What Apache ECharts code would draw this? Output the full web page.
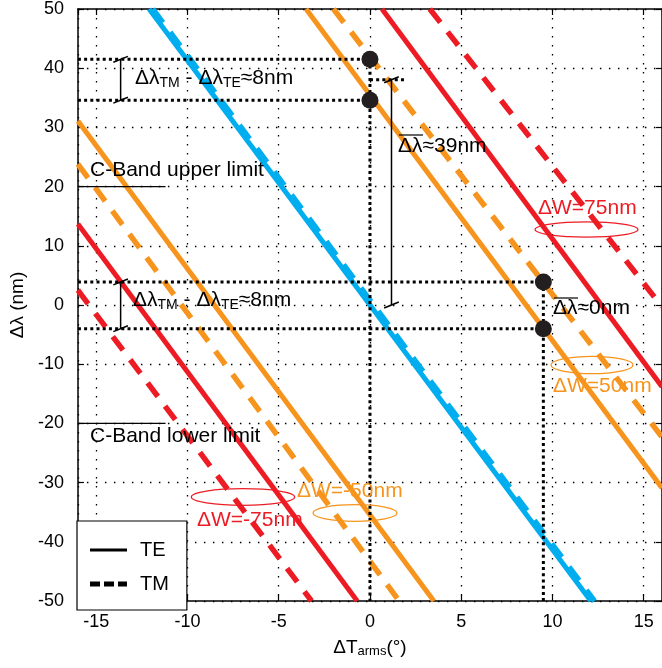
<!DOCTYPE html>
<html>
<head>
<meta charset="utf-8">
<script src="https://cdn.jsdelivr.net/npm/echarts@6/dist/echarts.min.js"></script>
<style>html,body{margin:0;padding:0;background:#fff}#chart{width:662px;height:668px}</style>
</head>
<body>
<div id="chart"></div>
<script>
// width offsets (nm) of the two arms, one TE / TM line pair each
let widths = [-75, -50, 0, 50, 75];
let lineColors = ['#ED1C24', '#F7941D', '#00AEEF', '#F7941D', '#ED1C24'];
// end points of each line [dT, dLambda]
let teLines = [
    [[-16, 13.7], [-0.7, -50]],
    [[-16, 31.1], [3.5, -50]],
    [[-12.1, 50], [12.1, -50]],
    [[-3.5, 50], [16, -30.9]],
    [[0.66, 50], [16, -13.8]]
];
let tmLines = [
    [[-16, 2.5], [-3.2, -50]],
    [[-16, 23.8], [1.6, -50]],
    [[-11.9, 50], [12.3, -50]],
    [[-2.0, 50], [16, -22.3]],
    [[3.28, 50], [16, -0.3]]
];
// C-band limits
let cBand = [20, -20];
let cBandEnd = -11.2;
// marked points
let markX = [0, 0, 9.5, 9.5];
let markY = [41.5, 34.6, 3.9, -4];
// I-bars (x, top, bottom)
let iBars = [[-13.66, 41.5, 34.6], [-13.66, 3.9, -4], [1.18, 38.05, 0]];

let FONT = 'Liberation Sans';
let chart = echarts.init(document.getElementById('chart'));

function seg(data, color, width, type, z) {
    return {
        type: 'line', data: data, symbol: 'none', silent: true, z: z || 3,
        animation: false,
        lineStyle: { color: color, width: width, type: type || 'solid', cap: 'butt' }
    };
}

let series = [];
widths.forEach(function (w, i) {
    series.push(seg(teLines[i], lineColors[i], 5, 'solid', 3));
    series.push(seg(tmLines[i], lineColors[i], 5.5, [17, 12], 3));
});

// legend dummies
series.push({ type: 'line', name: 'TE', data: [], symbol: 'none', color: '#000', lineStyle: { color: '#000', width: 3 } });
series.push({ type: 'line', name: 'TM', data: [], symbol: 'none', color: '#000', lineStyle: { color: '#000', width: 5, type: [9, 5] } });

// C-band lines
cBand.forEach(function (v) {
    series.push(seg([[-16, v], [cBandEnd, v]], '#000', 1.3, 'solid', 4));
});

// dotted guide lines
let dot = [3, 3.2];
series.push(seg([[-16, markY[0]], [markX[0], markY[0]]], '#000', 3, dot, 4));
series.push(seg([[-16, markY[1]], [markX[1], markY[1]]], '#000', 3, dot, 4));
series.push(seg([[markX[0], markY[0]], [markX[0], -50]], '#000', 3, dot, 4));
series.push(seg([[-16, markY[2]], [markX[2], markY[2]]], '#000', 3, dot, 4));
series.push(seg([[-16, markY[3]], [markX[3], markY[3]]], '#000', 3, dot, 4));
series.push(seg([[markX[2], markY[2]], [markX[2], -50]], '#000', 3, dot, 4));
series.push(seg([[markX[0], iBars[2][1]], [2, iBars[2][1]]], '#000', 3, dot, 4));

// I-bars with slanted caps
iBars.forEach(function (b) {
    series.push(seg([[b[0], b[1]], [b[0], b[2]]], '#000', 1.5, 'solid', 5));
    series.push(seg([[b[0] - 0.4, b[1] - 0.5], [b[0] + 0.4, b[1] + 0.5]], '#000', 1.5, 'solid', 5));
    series.push(seg([[b[0] - 0.4, b[2] - 0.5], [b[0] + 0.4, b[2] + 0.5]], '#000', 1.5, 'solid', 5));
});

series.push({
    type: 'scatter', silent: true, z: 6, animation: false,
    data: markX.map(function (x, i) { return [x, markY[i]]; }),
    symbolSize: 17, itemStyle: { color: '#231f20', opacity: 1 }
});

let axisText = { fontFamily: FONT, fontSize: 18, color: '#000' };

function label(text, x, y, color, rich) {
    return {
        type: 'text', left: x, top: y, z: 10, silent: true,
        style: { text: text, fontFamily: FONT, fontSize: 21, fill: color || '#000', rich: rich }
    };
}
function ellipse(cx, cy, rx, ry, color) {
    return { type: 'ellipse', z: 10, silent: true, shape: { cx: cx, cy: cy, rx: rx, ry: ry }, style: { fill: null, stroke: color, lineWidth: 1.2 } };
}
function bar(x1, x2, y) {
    return { type: 'line', z: 10, silent: true, shape: { x1: x1, y1: y, x2: x2, y2: y }, style: { stroke: '#000', lineWidth: 1.2 } };
}
let subStyle = {
    s: { fontFamily: FONT, fontSize: 14, fill: '#000', padding: [10, 0, 0, 0] }
};

let option = {
    backgroundColor: '#fff',
    animation: false,
    grid: { left: 77, right: 0, top: 9, bottom: 67 },
    legend: {
        data: [
            { name: 'TE', icon: 'path://M0,1h37v3h-37z' },
            { name: 'TM', icon: 'path://M0,0h10v5h-10zM14,0h10v5h-10zM28,0h9v5h-9z' }
        ],
        orient: 'vertical', left: 77, top: 521,
        padding: [19, 18, 16, 13], itemGap: 14, itemWidth: 37, itemHeight: 16,
        borderColor: '#000', borderWidth: 1.2, backgroundColor: '#fff', borderRadius: 0,
        itemStyle: { color: '#000' },
        textStyle: { fontFamily: FONT, fontSize: 20, color: '#000', padding: [0, 0, 0, 8] },
        selectedMode: false, z: 12
    },
    xAxis: [{
        type: 'value', min: -16, max: 16,
        name: 'ΔT{s|arms}(°)', nameLocation: 'middle', nameGap: 36,
        nameTextStyle: { fontFamily: FONT, fontSize: 19, color: '#000', rich: { s: { fontFamily: FONT, fontSize: 13, color: '#000', padding: [8, 0, 0, 0] } } },
        axisLine: { onZero: false, lineStyle: { color: '#000', width: 1.5 } },
        axisTick: { inside: true, length: 6, lineStyle: { color: '#000', width: 1.2 } },
        axisLabel: Object.assign({ margin: 12, showMinLabel: false, showMaxLabel: false }, axisText),
        splitLine: { show: true, lineStyle: { color: '#000', width: 1.3, type: [1.5, 7.5] } }
    }, {
        type: 'value', min: -16, max: 16, position: 'top',
        axisLine: { onZero: false, lineStyle: { color: '#000', width: 1.5 } },
        axisTick: { inside: true, length: 6, lineStyle: { color: '#000', width: 1.2 } },
        axisLabel: { show: false }, splitLine: { show: false }
    }],
    yAxis: [{
        type: 'value', min: -50, max: 50, interval: 10,
        name: 'Δλ (nm)', nameLocation: 'middle', nameGap: 50,
        nameTextStyle: { fontFamily: FONT, fontSize: 19, color: '#000' },
        axisLine: { onZero: false, lineStyle: { color: '#000', width: 1.5 } },
        axisTick: { inside: true, length: 6, lineStyle: { color: '#000', width: 1.2 } },
        axisLabel: Object.assign({ margin: 14 }, axisText),
        splitLine: { show: true, lineStyle: { color: '#000', width: 1.3, type: [1.5, 7.5] } }
    }, {
        type: 'value', min: -50, max: 50, interval: 10, position: 'right',
        axisLine: { onZero: false, lineStyle: { color: '#000', width: 1.5 } },
        axisTick: { inside: true, length: 6, lineStyle: { color: '#000', width: 1.2 } },
        axisLabel: { show: false }, splitLine: { show: false }
    }],
    series: series,
    graphic: [
        label('Δλ{s|TM} - Δλ{s|TE}≈8nm', 135, 68, '#000', subStyle),
        label('Δλ{s|TM} - Δλ{s|TE}≈8nm', 133, 290, '#000', subStyle),
        label('C-Band upper limit', 90, 160),
        label('C-Band lower limit', 90, 426),
        label('Δλ≈39nm', 398, 136),
        bar(399, 423, 135),
        label('Δλ≈0nm', 553, 298),
        bar(554, 578, 298),
        label('ΔW=75nm', 538, 198, '#ED1C24'),
        label('ΔW=50nm', 553, 376, '#F7941D'),
        label('ΔW=-75nm', 197, 510, '#ED1C24'),
        label('ΔW=-50nm', 297, 481, '#F7941D'),
        ellipse(586.5, 229.5, 51.5, 7.7, '#ED1C24'),
        ellipse(592, 365, 41, 8.7, '#F7941D'),
        ellipse(243, 497, 51.7, 8.3, '#ED1C24'),
        ellipse(355, 513, 42, 8.3, '#F7941D')
    ]
};
chart.setOption(option);
</script>
</body>
</html>
